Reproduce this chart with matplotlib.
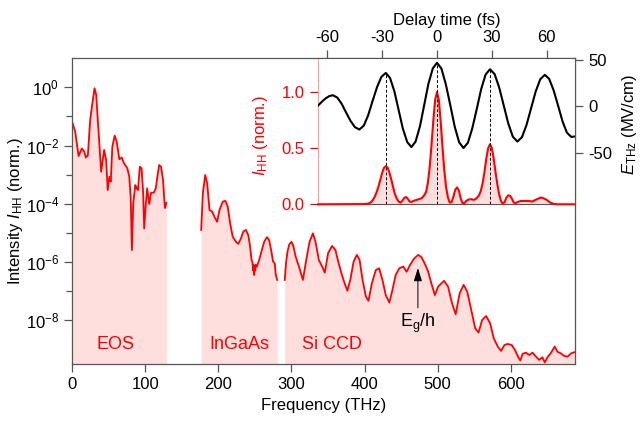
"""High-harmonic spectrum with EOS / InGaAs / Si CCD ranges and a delay-time inset."""

import matplotlib

matplotlib.use("Agg")

import matplotlib.pyplot as plt
import numpy as np

plt.rcParams["font.family"] = ["Liberation Sans", "DejaVu Sans"]
plt.rcParams["mathtext.fontset"] = "custom"
plt.rcParams["mathtext.rm"] = "Liberation Sans"
plt.rcParams["mathtext.it"] = "Liberation Sans:italic"
plt.rcParams["axes.unicode_minus"] = False

# ---- main spectrum: frequency (THz) and log10 of normalised intensity ----
eos_f = [0.5, 4, 8.6, 13, 16.3, 18.6, 21.3, 24.5, 26.8, 30.4,
         32.7, 35.8, 39.5, 43.5, 46.3, 48.5, 50.8, 52.6, 54.8, 58,
         60.8, 64.4, 67.6, 70.7, 75.3, 78, 79.9, 81.6, 83.4, 86.2,
         88.1, 89.8, 92.5, 94.8, 97, 98.4, 100.7, 102.5, 105.2, 107.9,
         111.6, 114.3, 116.1, 118.8, 121.5, 124.2, 126.1, 126.9, 128.8]
eos_log = [-1.24, -1.53, -2.36, -2.10, -2.21, -2.41, -2.33, -1.12, -0.67, -0.03,
           -0.26, -1.47, -2.90, -2.15, -2.50, -3.53, -3.07, -3.24, -2.04, -1.66,
           -1.87, -2.47, -2.41, -2.61, -2.78, -3.07, -3.76, -5.59, -3.99, -3.36,
           -3.47, -3.53, -2.73, -2.78, -3.64, -4.85, -3.99, -3.47, -4.01, -3.62,
           -3.62, -3.47, -3.13, -2.67, -2.73, -3.18, -3.93, -4.15, -3.97]

ing_f = [176.4, 178.7, 181.9, 184.6, 187.8, 191.4, 194.6, 198.2, 201.4, 205.9,
         209.5, 212.7, 216, 219.5, 224.1, 227.2, 230.9, 234, 237.7, 240.8,
         243.1, 245.3, 246.5, 247.6, 248.3, 249, 249.7, 250.3, 251, 252.6,
         255.8, 259.5, 262.6, 266.3, 269.4, 272.1, 274.8, 277.1, 278.5, 280.5]
ing_log = [-4.90, -3.64, -3.01, -3.30, -4.22, -4.27, -4.45, -4.62, -4.22, -3.93,
           -3.90, -4.10, -4.67, -5.13, -5.31, -5.38, -5.19, -4.96, -4.90, -5.08,
           -5.42, -5.93, -6.00, -6.30, -6.10, -6.45, -6.15, -6.30, -6.10, -6.16,
           -5.93, -5.59, -5.31, -5.15, -5.25, -5.59, -5.99, -6.05, -6.45, -6.62]

si_f = [290.8, 292.5, 294.5, 297, 300, 302.5, 305.7, 310.2, 315.6, 320.2,
        324.7, 329.3, 332.9, 337.4, 342, 345.6, 350.1, 355.6, 360.1, 364.6,
        368.3, 372.8, 376.4, 380.5, 385, 389.5, 393.2, 397.3, 401.8, 405.4,
        410, 415.4, 420, 424.5, 429, 434, 438.1, 442.6, 447.6, 453.1,
        457.6, 462.2, 468, 473.5, 478, 483.4, 487.1, 491, 496.2, 500.7,
        508.8, 514.3, 519.7, 524.7, 530.2, 535.6, 540.5, 546, 551.4, 556,
        560.9, 566.4, 571.8, 576.9, 582.3, 586.8, 591.4, 595.9, 601.4, 605.9,
        610.5, 613.2, 616.3, 620.8, 625.4, 629.9, 634.4, 639, 643.5, 646.7,
        650.3, 654.8, 660.3, 664, 668.4, 673, 677.6, 683, 688]
si_log = [-6.62, -6.05, -5.65, -5.40, -5.31, -5.45, -5.82, -6.16, -6.62, -5.93,
          -5.31, -5.02, -5.31, -5.93, -6.16, -6.37, -5.70, -5.45, -5.59, -6.05,
          -6.39, -6.74, -6.99, -6.62, -5.99, -5.76, -5.93, -6.62, -7.19, -7.34,
          -6.74, -6.28, -6.22, -6.62, -7.14, -7.40, -6.97, -6.45, -6.22, -6.16,
          -6.34, -6.11, -5.88, -5.76, -5.84, -6.11, -6.34, -6.70, -7.14, -6.85,
          -6.65, -6.85, -7.42, -7.80, -7.08, -6.79, -7.02, -7.65, -8.28, -8.43,
          -8.00, -7.86, -8.11, -8.63, -8.91, -9.06, -8.86, -8.82, -8.86, -9.03,
          -9.28, -9.39, -9.16, -9.12, -9.20, -9.12, -9.25, -9.37, -9.28, -9.46,
          -9.28, -9.14, -8.91, -9.09, -9.14, -9.23, -9.26, -9.14, -9.10]

detector_names = ["EOS", "InGaAs", "Si CCD"]
detector_label_f = [58.6, 228, 355]
detector_label_log = -8.83

gap_f = 473           # E_g/h arrow position (THz)
gap_tip_log = -6.21
gap_tail_log = -7.58

y_major_exp = [0, -2, -4, -6, -8]
y_minor_exp = [-1, -3, -5, -7]
x_ticks = [0, 100, 200, 300, 400, 500, 600]

# ---- inset: delay time (fs) ----
e_t = [-65, -63, -61, -59, -57,
       -54.6, -52.2, -49.8, -47.3, -44.9, -42.5,
       -40.1, -37.7, -35.3, -32.8, -30.4, -28,
       -25.7, -23.3, -21, -18.7, -16.3, -14,
       -11.7, -9.3, -7, -4.7, -2.3, 0,
       2.4, 4.8, 7.3, 9.7, 12.1, 14.5,
       16.9, 19.3, 21.8, 24.2, 26.6, 29,
       31.5, 34, 36.5, 39, 41.5, 44,
       46.5, 49, 51.5, 54, 56.5, 59,
       61.4, 63.8, 66.3, 68.7, 71.1, 73.5,
       75.5]
e_field = [1, 5, 8.5, 11, 12,
           9.5, 2.8, -6.5, -15.8, -22.5, -25,
           -20.9, -9.8, 5.5, 20.8, 31.9, 36,
           30.6, 16, -4, -24, -38.6, -44,
           -37.9, -21.3, 1.5, 24.3, 40.9, 47,
           40.8, 24, 1, -22, -38.8, -45,
           -39.3, -23.8, -2.5, 18.8, 34.3, 40,
           34.8, 20.5, 1, -18.5, -32.8, -38,
           -33.2, -20, -2, 16, 29.2, 34,
           29.5, 17.3, 0.5, -16.3, -28.5, -33,
           -32.5]

i_t = [-65, -40,
       -38, -37, -36, -35, -34, -33, -32, -31, -30, -29,
       -28, -27, -26, -25, -24, -23, -22, -21, -20,
       -19, -18, -17, -16, -15, -14,
       -13, -12, -11, -10, -9, -8, -7, -6, -5, -4, -3, -2, -1,
       0, 1, 2, 3, 4, 5, 6, 7, 8, 9, 10,
       11, 12, 13, 14, 15, 16, 17, 18, 19, 20,
       21, 22, 23, 24, 25, 26, 27, 28, 29, 30,
       31, 32, 33, 34, 35, 36, 37, 38, 39, 40,
       41, 42, 43, 44,
       46, 48, 50, 52, 54, 56, 57, 58, 60, 62, 64, 66, 75.5]
i_hh = [0, 0.002,
        0.005, 0.01, 0.02, 0.04, 0.07, 0.11, 0.16, 0.22, 0.28, 0.325,
        0.34, 0.325, 0.28, 0.22, 0.15, 0.09, 0.05, 0.025, 0.015,
        0.03, 0.055, 0.065, 0.05, 0.025, 0.02,
        0.03, 0.035, 0.04, 0.045, 0.05, 0.06, 0.08, 0.11, 0.19, 0.33, 0.53, 0.75, 0.93,
        1.0, 0.93, 0.74, 0.51, 0.30, 0.15, 0.06, 0.015, 0.02, 0.07, 0.13,
        0.15, 0.12, 0.05, 0.01, 0.01, 0.03, 0.04, 0.045, 0.045, 0.04,
        0.045, 0.06, 0.08, 0.12, 0.19, 0.29, 0.41, 0.50, 0.535, 0.50,
        0.41, 0.29, 0.18, 0.09, 0.03, 0.005, 0.02, 0.06, 0.08, 0.075,
        0.05, 0.015, 0.01, 0.02,
        0.03, 0.03, 0.03, 0.025, 0.04, 0.055, 0.06, 0.055, 0.04, 0.015, 0.003, 0, 0]

peak_delays = [-28, 0, 29]
delay_ticks = [-60, -30, 0, 30, 60]
ihh_ticks = [0.0, 0.5, 1.0]
e_ticks = [-50, 0, 50]

RED = "#ff0000"
PINK = "#ffdede"
AXC = "#555555"
FS = 12


def main() -> None:
    fig = plt.figure(figsize=(6.41, 4.21), dpi=100)
    ax = fig.add_axes([0.1128, 0.1354, 0.7842, 0.7261])

    ymin, ymax = 10 ** -9.51, 10 ** 1.0
    for f, lg in [(eos_f, eos_log), (ing_f, ing_log), (si_f, si_log)]:
        f = np.asarray(f)
        y = 10.0 ** np.asarray(lg)
        ax.fill_between(f, y, ymin, color=PINK, lw=0)
        ax.plot(f, y, color=RED, lw=1.3)

    ax.set_yscale("log")
    ax.set_xlim(0, 688)
    ax.set_ylim(ymin, ymax)
    ax.set_yticks([10.0 ** e for e in y_major_exp])
    ax.set_yticklabels([f"$10^{{{e}}}$" for e in y_major_exp])
    ax.set_yticks([10.0 ** e for e in y_minor_exp], minor=True)
    ax.set_yticklabels([], minor=True)
    ax.set_xticks(x_ticks)
    ax.tick_params(axis="both", which="both", direction="out", color=AXC,
                   labelsize=FS, width=0.9)
    ax.tick_params(axis="both", which="major", length=6)
    ax.tick_params(axis="y", which="minor", length=4)
    for s in ax.spines.values():
        s.set_color(AXC)
        s.set_linewidth(0.9)
    ax.set_xlabel("Frequency (THz)", fontsize=FS, labelpad=4)
    ax.set_ylabel("Intensity $I_{\\mathrm{HH}}$ (norm.)", fontsize=FS)
    ax.yaxis.set_label_coords(-0.094, 0.5)

    for name, f in zip(detector_names, detector_label_f):
        ax.text(f, 10 ** detector_label_log, name, color=RED, fontsize=13,
                ha="center", va="center")

    ax.annotate("", xy=(gap_f, 10 ** gap_tip_log), xytext=(gap_f, 10 ** gap_tail_log),
                arrowprops=dict(arrowstyle="-|>,head_width=0.25,head_length=0.8",
                                color="black", lw=0.7, shrinkA=0, shrinkB=0))
    ax.text(gap_f, 10 ** (gap_tail_log - 0.12), "E$_\\mathrm{g}$/h", fontsize=13,
            ha="center", va="top")

    # ---- inset ----
    ax_in = fig.add_axes([0.4956, 0.5147, 0.4014, 0.3468])
    ax_in.set_facecolor("white")
    ax_in.fill_between(i_t, i_hh, 0, color=PINK, lw=0)
    ax_in.plot(i_t, i_hh, color=RED, lw=1.5, clip_on=False, zorder=3)
    ax_in.set_xlim(-65.3, 75.5)
    ax_in.set_ylim(0, 1.30)
    ax_in.set_yticks(ihh_ticks)
    ax_in.set_yticklabels([f"{v:.1f}" for v in ihh_ticks])
    ax_in.tick_params(axis="y", colors=RED, labelsize=FS, length=6, width=0.9,
                      direction="out")
    ax_in.spines["left"].set_color("#ff9a9a")
    ax_in.spines["right"].set_visible(False)
    ax_in.spines["bottom"].set_color(AXC)
    ax_in.spines["top"].set_color(AXC)
    ax_in.xaxis.tick_top()
    ax_in.xaxis.set_label_position("top")
    ax_in.set_xticks(delay_ticks)
    ax_in.tick_params(axis="x", colors="black", labelsize=FS, length=6, width=0.9,
                      direction="out")
    ax_in.tick_params(axis="x", color=AXC)
    ax_in.set_xlabel("Delay time (fs)", fontsize=FS, labelpad=4)
    ax_in.set_ylabel("$I_{\\mathrm{HH}}$ (norm.)", color=RED, fontsize=FS)
    ax_in.yaxis.set_label_coords(-0.185, 0.47)

    ax_e = ax_in.twinx()
    e_lo, e_hi = -105.7, 51.8
    ax_e.plot(e_t, e_field, color="black", lw=1.5)
    tops = np.interp(peak_delays, e_t, e_field)
    ax_e.vlines(peak_delays, e_lo, tops, colors="black", linestyles=(0, (3, 2)),
                lw=0.7)
    ax_e.set_ylim(e_lo, e_hi)
    ax_e.set_yticks(e_ticks)
    ax_e.tick_params(axis="y", labelsize=FS, length=6, width=0.9, color=AXC,
                     direction="out")
    for side in ["left", "bottom", "top"]:
        ax_e.spines[side].set_visible(False)
    ax_e.spines["right"].set_color(AXC)
    ax_e.set_ylabel("$E_{\\mathrm{THz}}$ (MV/cm)", fontsize=FS)
    ax_e.yaxis.set_label_coords(1.175, 0.55)

    fig.savefig("out.png", dpi=100)
    plt.close(fig)


if __name__ == "__main__":
    main()
